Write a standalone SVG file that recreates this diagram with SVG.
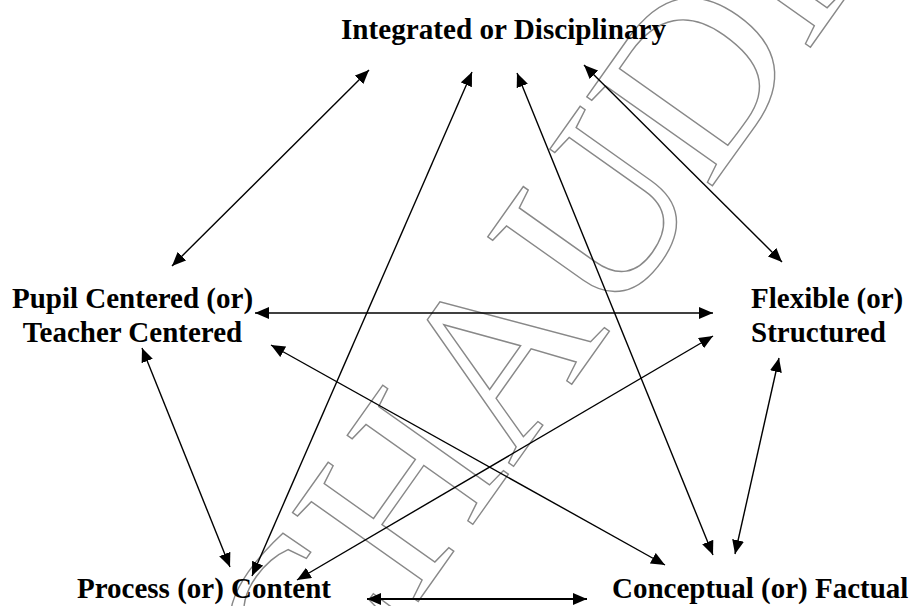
<svg xmlns="http://www.w3.org/2000/svg" width="913" height="606" viewBox="0 0 913 606">
<defs>
<style>
.t{font-family:"Liberation Serif","Times New Roman",serif;font-weight:bold;font-size:29px;fill:#000}
.c line{stroke:#000;stroke-width:1.4;marker-start:url(#a);marker-end:url(#a)}
.wm{font-family:"Liberation Serif","Times New Roman",serif;font-size:235px;fill:none;stroke:#888;stroke-width:1.4}
</style>
<marker id="a" viewBox="0 0 14 12" markerWidth="14" markerHeight="12" refX="14" refY="6" orient="auto-start-reverse" markerUnits="userSpaceOnUse">
<path d="M0,0 L14,6 L0,12 Z" fill="#000"/>
</marker>
</defs>
<rect width="913" height="606" fill="#fff"/>
<g id="watermark">
<text class="wm" transform="translate(323.7,734.8) rotate(-54.7)">CHAUDH</text>
</g>
<g id="connectors" class="c">
<line x1="369" y1="70" x2="172" y2="266"/>
<line x1="472" y1="72" x2="252" y2="576"/>
<line x1="517" y1="73" x2="713" y2="555"/>
<line x1="584" y1="65" x2="782" y2="262"/>
<line x1="255" y1="313" x2="713" y2="313"/>
<line x1="271" y1="345" x2="665" y2="565"/>
<line x1="142" y1="348" x2="230" y2="567"/>
<line x1="297" y1="580" x2="713" y2="336"/>
<line x1="779" y1="358" x2="735" y2="554"/>
<line x1="367" y1="599" x2="587" y2="599" style="stroke-width:2"/>
</g>
<g id="node-integrated"><text class="t" x="341" y="39" textLength="325" lengthAdjust="spacingAndGlyphs">Integrated or Disciplinary</text></g>
<g id="node-pupil"><text class="t" x="132.5" y="308" text-anchor="middle">Pupil Centered (or)</text><text class="t" x="132.5" y="342" text-anchor="middle">Teacher Centered</text></g>
<g id="node-flexible"><text class="t" x="751" y="308">Flexible (or)</text><text class="t" x="751" y="342">Structured</text></g>
<g id="node-process"><text class="t" x="77" y="598">Process (or) Content</text></g>
<g id="node-conceptual"><text class="t" x="612" y="598">Conceptual (or) Factual</text></g>
</svg>
